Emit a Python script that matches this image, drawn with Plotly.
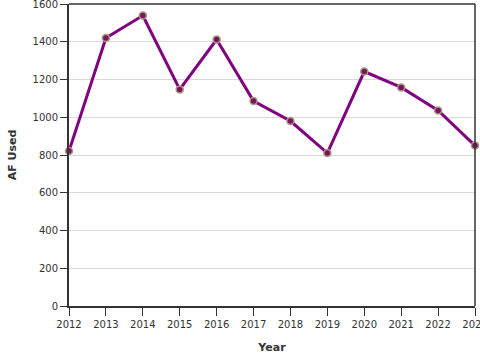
import plotly.graph_objects as go

years = [2012, 2013, 2014, 2015, 2016, 2017, 2018, 2019, 2020, 2021, 2022, 2023]
af_used = [821, 1420, 1539, 1147, 1412, 1086, 980, 810, 1242, 1158, 1036, 850]
y_ticks = [0, 200, 400, 600, 800, 1000, 1200, 1400, 1600]

fig = go.Figure(
    go.Scatter(
        x=years, y=af_used, mode="lines+markers",
        line=dict(color="#800080", width=3),
        marker=dict(size=7, color="#7a1460", line=dict(color="#a89a80", width=1.5)),
        cliponaxis=False,
    )
)

fig.update_layout(
    width=480, height=360,
    margin=dict(l=69, r=5, t=4, b=54, autoexpand=False),
    paper_bgcolor="white", plot_bgcolor="white",
    font=dict(family="DejaVu Sans", size=10, color="#333333"),
    showlegend=False,
    shapes=[
        dict(type="line", xref="paper", yref="paper", x0=0, x1=1, y0=1, y1=1,
             line=dict(color="#333333", width=1.5), layer="above"),
        dict(type="line", xref="paper", yref="paper", x0=1, x1=1, y0=0, y1=1,
             line=dict(color="#333333", width=1.5), layer="above"),
    ],
)
fig.update_xaxes(
    range=[2012, 2023], tickvals=years, ticktext=[str(y) for y in years],
    showgrid=False, showline=True, linecolor="#333333", linewidth=2, mirror=False,
    ticks="outside", ticklen=8, tickcolor="#333333",
    title=dict(text="<b>Year</b>", font=dict(size=11), standoff=14),
    zeroline=False, automargin=False, ticklabeloverflow="allow",
)
fig.update_yaxes(
    range=[0, 1600], tickvals=y_ticks,
    showgrid=True, gridcolor="#d9d9d9", gridwidth=1,
    showline=True, linecolor="#333333", linewidth=2, mirror=False,
    ticks="outside", ticklen=7, tickcolor="#333333",
    title=dict(text="<b>AF Used</b>", font=dict(size=11), standoff=14),
    zeroline=False, automargin=False, ticklabeloverflow="allow",
)

fig.write_html(
    "out.html",
    config={"displayModeBar": False},
    post_script="document.body.style.margin='0';document.body.style.overflow='hidden';",
)
